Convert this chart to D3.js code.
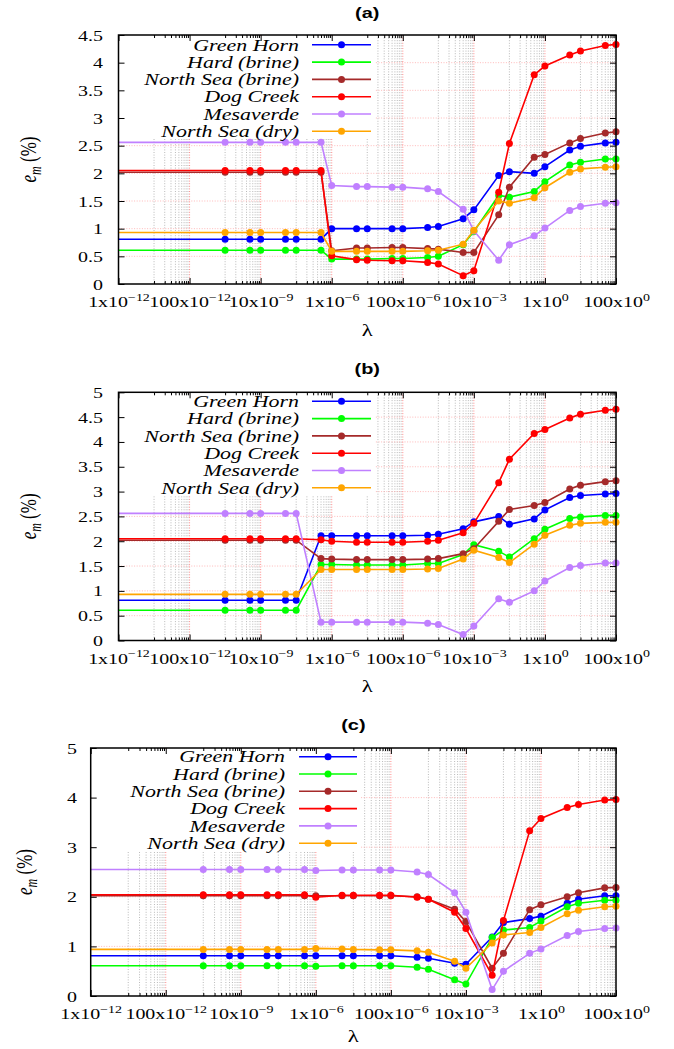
<!DOCTYPE html>
<html><head><meta charset="utf-8">
<script src="https://cdn.jsdelivr.net/npm/d3@7"></script>
<style>body{margin:0;background:#fff}</style>
</head><body>
<svg id="chart" width="674" height="1049"></svg>
<script>
// ---------- data ----------
const lambdas = [1e-9,5e-9,1e-8,5e-8,1e-7,5e-7,1e-6,5e-6,1e-5,5e-5,1e-4,5e-4,1e-3,5e-3,1e-2,5e-2,1e-1,0.5,1,5,10,50,100];
const seriesNames = ["Green Horn","Hard (brine)","North Sea (brine)","Dog Creek","Mesaverde","North Sea (dry)"];
const seriesColors = ["#0000ff","#00ff00","#a52a2a","#ff0000","#c080ff","#ffa500"];
const panelLabels = ["(a)","(b)","(c)"];
const xTickValues = [1e-12,1e-10,1e-8,1e-6,1e-4,1e-2,1,100];
const xTickMantissas = ["1","100","10","1","100","10","1","100"];
const xTickExponents = ["\u221212","\u221212","\u22129","\u22126","\u22126","\u22123","0","0"];
const yTicksA = [0,0.5,1,1.5,2,2.5,3,3.5,4,4.5];
const yTicksB = [0,0.5,1,1.5,2,2.5,3,3.5,4,4.5,5];
const yTicksC = [0,1,2,3,4,5];

// panel (a)
const a_greenHorn = [0.81,0.81,0.81,0.81,0.81,0.81,1.00,1.00,1.00,1.00,1.00,1.02,1.04,1.18,1.34,1.96,2.03,2.00,2.12,2.42,2.49,2.55,2.56];
const a_hardBrine = [0.61,0.61,0.61,0.61,0.61,0.61,0.45,0.45,0.45,0.46,0.46,0.48,0.50,0.71,0.95,1.60,1.57,1.67,1.85,2.15,2.20,2.26,2.26];
const a_northSeaBrine = [2.02,2.02,2.02,2.02,2.02,2.02,0.60,0.65,0.65,0.66,0.66,0.64,0.63,0.57,0.57,1.25,1.75,2.29,2.34,2.55,2.63,2.73,2.75];
const a_dogCreek = [2.05,2.05,2.05,2.05,2.05,2.05,0.51,0.44,0.43,0.42,0.42,0.39,0.36,0.15,0.24,1.66,2.54,3.78,3.94,4.14,4.21,4.31,4.33];
const a_mesaverde = [2.56,2.56,2.56,2.56,2.56,2.56,1.78,1.76,1.76,1.75,1.75,1.72,1.67,1.35,0.96,0.43,0.71,0.87,1.01,1.33,1.40,1.46,1.47];
const a_northSeaDry = [0.93,0.93,0.93,0.93,0.93,0.93,0.59,0.59,0.59,0.59,0.59,0.60,0.61,0.72,0.97,1.50,1.46,1.56,1.74,2.02,2.08,2.11,2.12];

// panel (b)
const b_greenHorn = [0.81,0.81,0.81,0.81,0.81,2.11,2.11,2.11,2.11,2.11,2.11,2.12,2.14,2.25,2.39,2.50,2.34,2.45,2.63,2.88,2.92,2.95,2.96];
const b_hardBrine = [0.61,0.61,0.61,0.61,0.61,1.53,1.53,1.52,1.52,1.52,1.52,1.55,1.55,1.73,1.93,1.80,1.68,2.05,2.24,2.46,2.49,2.52,2.52];
const b_northSeaBrine = [2.02,2.02,2.02,2.02,2.02,1.65,1.64,1.63,1.63,1.63,1.63,1.64,1.65,1.75,1.85,2.40,2.64,2.72,2.78,3.05,3.13,3.20,3.22];
const b_dogCreek = [2.05,2.05,2.05,2.05,2.05,2.03,2.00,1.98,1.98,1.98,1.98,2.00,2.02,2.17,2.36,3.18,3.65,4.17,4.25,4.48,4.56,4.64,4.66];
const b_mesaverde = [2.56,2.56,2.56,2.56,2.56,0.37,0.37,0.37,0.37,0.37,0.37,0.35,0.32,0.12,0.29,0.84,0.77,1.00,1.20,1.47,1.51,1.56,1.56];
const b_northSeaDry = [0.93,0.93,0.93,0.93,0.93,1.43,1.43,1.43,1.43,1.43,1.43,1.44,1.45,1.64,1.82,1.67,1.57,1.94,2.12,2.32,2.36,2.38,2.38];

// panel (c)
const c_greenHorn = [0.81,0.81,0.81,0.81,0.81,0.81,0.81,0.81,0.81,0.81,0.81,0.78,0.76,0.66,0.64,1.19,1.48,1.56,1.61,1.87,1.95,2.02,2.02];
const c_hardBrine = [0.61,0.61,0.61,0.61,0.61,0.61,0.60,0.61,0.61,0.61,0.61,0.58,0.54,0.33,0.24,1.18,1.33,1.38,1.51,1.80,1.87,1.93,1.93];
const c_northSeaBrine = [2.02,2.02,2.02,2.02,2.02,2.02,2.02,2.02,2.02,2.02,2.02,2.00,1.95,1.75,1.50,0.56,0.86,1.74,1.84,2.00,2.08,2.18,2.19];
const c_dogCreek = [2.04,2.04,2.04,2.04,2.04,2.04,1.99,2.03,2.03,2.03,2.03,1.99,1.95,1.69,1.36,0.42,1.52,3.33,3.58,3.80,3.86,3.95,3.96];
const c_mesaverde = [2.55,2.55,2.55,2.55,2.55,2.55,2.53,2.54,2.54,2.54,2.54,2.50,2.45,2.08,1.69,0.13,0.50,0.86,0.95,1.22,1.30,1.36,1.37];
const c_northSeaDry = [0.94,0.94,0.94,0.94,0.94,0.94,0.96,0.95,0.94,0.93,0.93,0.91,0.88,0.70,0.56,1.07,1.23,1.28,1.38,1.66,1.73,1.80,1.81];

// ---------- layout ----------
const SX = 1.33;              // horizontal text stretch of the original figure
const SERIF = "'Liberation Serif','Times New Roman',serif";
const SANS = "'Liberation Sans',Arial,sans-serif";
const panels = [
  {label: panelLabels[0], series:[a_greenHorn,a_hardBrine,a_northSeaBrine,a_dogCreek,a_mesaverde,a_northSeaDry],
   yTicks:yTicksA, yMax:4.5, L:118.5, R:616, T:35, B:284, titleY:12.5, xlabY:330, ylabX:28, yPad:15.5,
   legRight:299, legX1:312, legX2:371, legY0:44.8},
  {label: panelLabels[1], series:[b_greenHorn,b_hardBrine,b_northSeaBrine,b_dogCreek,b_mesaverde,b_northSeaDry],
   yTicks:yTicksB, yMax:5, L:118.5, R:616, T:392.3, B:640.5, titleY:368.3, xlabY:686, ylabX:28, yPad:15.5,
   legRight:299, legX1:312, legX2:371, legY0:401.3},
  {label: panelLabels[2], series:[c_greenHorn,c_hardBrine,c_northSeaBrine,c_dogCreek,c_mesaverde,c_northSeaDry],
   yTicks:yTicksC, yMax:5, L:90.7, R:616, T:748, B:996, titleY:725, xlabY:1036, ylabX:24, yPad:13.7,
   legRight:285, legX1:299, legX2:357, legY0:756.7}
];
const LEG_STEP = 17.3;

const svg = d3.select("#chart");
svg.append("rect").attr("width",674).attr("height",1049).attr("fill","#fff");

// minor grid positions (gnuplot log mxtics between decades-of-100 majors)
const minorX = [];
for (let j = -12; j < 2; j += 2) for (let m = 1; m <= 9; m++) minorX.push(m * Math.pow(10, j + 1));

panels.forEach((p, pi) => {
  const x = d3.scaleLog().domain([1e-12, 100]).range([p.L, p.R]);
  const y = d3.scaleLinear().domain([0, p.yMax]).range([p.B, p.T]);
  const g = svg.append("g");
  const clipId = "clip" + pi;
  g.append("clipPath").attr("id", clipId).append("rect")
    .attr("x", p.L).attr("y", p.T).attr("width", p.R - p.L).attr("height", p.B - p.T);

  // grid
  const grid = g.append("g");
  grid.selectAll("line.minor").data(minorX.filter(v => v > 1e-12 && v < 100)).join("line")
    .attr("x1", d => x(d)).attr("x2", d => x(d)).attr("y1", p.T).attr("y2", p.B)
    .attr("stroke", "#8c8c8c").attr("stroke-width", 0.6).attr("stroke-dasharray", "1,1.6");
  grid.selectAll("line.major").data(xTickValues.slice(1, -1)).join("line")
    .attr("x1", d => x(d)).attr("x2", d => x(d)).attr("y1", p.T).attr("y2", p.B)
    .attr("stroke", "#ff7070").attr("stroke-width", 0.8).attr("stroke-dasharray", "1,1.6");
  grid.selectAll("line.hy").data(p.yTicks.slice(1, -1)).join("line")
    .attr("x1", p.L).attr("x2", p.R).attr("y1", d => y(d)).attr("y2", d => y(d))
    .attr("stroke", "#ffa8a8").attr("stroke-width", 0.8).attr("stroke-dasharray", "1,1.6");

  // legend box (opaque)
  g.append("rect").attr("x", p.L + 1).attr("y", p.T + 1)
    .attr("width", p.legX2 + 4 - p.L - 1).attr("height", LEG_STEP * 6 - 1)
    .attr("fill", "#fff");

  // series
  const line = d3.line().x(d => x(d.l)).y(d => y(d.v));
  p.series.forEach((vals, si) => {
    const pts = vals.map((v, i) => ({l: lambdas[i], v}));
    const linePts = [{l: x.domain()[0], v: vals[0]}].concat(pts);
    g.append("path").datum(linePts).attr("d", line).attr("fill", "none")
      .attr("stroke", seriesColors[si]).attr("stroke-width", 1.6)
      .attr("clip-path", `url(#${clipId})`);
    g.append("g").selectAll("circle").data(pts).join("circle")
      .attr("cx", d => x(d.l)).attr("cy", d => y(d.v)).attr("r", 3.5)
      .attr("fill", seriesColors[si]);
  });

  // legend entries
  const leg = g.append("g");
  seriesNames.forEach((name, si) => {
    const ly = p.legY0 + si * LEG_STEP;
    leg.append("text").attr("transform", `translate(${p.legRight},${ly}) scale(${SX},1)`)
      .attr("text-anchor", "end").attr("dy", "0.35em")
      .attr("font-family", SERIF).attr("font-style", "italic").attr("font-size", 16.5)
      .attr("fill", "#000").text(name);
    leg.append("line").attr("x1", p.legX1).attr("x2", p.legX2).attr("y1", ly).attr("y2", ly)
      .attr("stroke", seriesColors[si]).attr("stroke-width", 1.6);
    leg.append("circle").attr("cx", (p.legX1 + p.legX2) / 2).attr("cy", ly).attr("r", 3.5)
      .attr("fill", seriesColors[si]);
  });

  // axes (inward ticks)
  const axB = g.append("g").attr("transform", `translate(0,${p.B})`)
    .call(d3.axisBottom(x).tickValues(xTickValues).tickSize(-6).tickFormat(""));
  const axT = g.append("g").attr("transform", `translate(0,${p.T})`)
    .call(d3.axisTop(x).tickValues(xTickValues).tickSize(-6).tickFormat(""));
  const mB = g.append("g").attr("transform", `translate(0,${p.B})`)
    .call(d3.axisBottom(x).tickValues(minorX).tickSize(-3).tickFormat(""));
  const mT = g.append("g").attr("transform", `translate(0,${p.T})`)
    .call(d3.axisTop(x).tickValues(minorX).tickSize(-3).tickFormat(""));
  const axL = g.append("g").attr("transform", `translate(${p.L},0)`)
    .call(d3.axisLeft(y).tickValues(p.yTicks).tickSize(-6).tickPadding(p.yPad).tickFormat(d3.format("")));
  const axR = g.append("g").attr("transform", `translate(${p.R},0)`)
    .call(d3.axisRight(y).tickValues(p.yTicks).tickSize(-6).tickFormat(""));
  [axB, axT, mB, mT, axL, axR].forEach(a => {
    a.select(".domain").remove();
    a.selectAll(".tick line").attr("stroke", "#000").attr("stroke-width", 1);
  });
  axL.selectAll(".tick text")
    .attr("x", 0).attr("dy", null)
    .attr("transform", `translate(${-p.yPad},5) scale(${SX},1)`)
    .attr("font-family", SERIF).attr("font-size", 15).attr("fill", "#000");

  axB.selectAll(".tick").each(function(d, i) {
    const t = d3.select(this).append("text")
      .attr("transform", `translate(0,23) scale(${SX},1)`)
      .attr("text-anchor", "middle").attr("font-family", SERIF).attr("font-size", 15).attr("fill", "#000");
    t.append("tspan").text(xTickMantissas[i] + "x10");
    t.append("tspan").attr("dy", -6.5).attr("font-size", 10.5).text(xTickExponents[i]);
  });

  // border
  g.append("rect").attr("x", p.L).attr("y", p.T).attr("width", p.R - p.L).attr("height", p.B - p.T)
    .attr("fill", "none").attr("stroke", "#000").attr("stroke-width", 1.5);

  // title
  g.append("text").attr("transform", `translate(${(p.L + p.R) / 2},${p.titleY}) scale(${SX},1)`)
    .attr("text-anchor", "middle").attr("dy", "0.35em")
    .attr("font-family", SANS).attr("font-weight", "bold").attr("font-size", 15).text(p.label);

  // x label
  g.append("text").attr("transform", `translate(${(p.L + p.R) / 2},${p.xlabY}) scale(${SX},1)`)
    .attr("text-anchor", "middle").attr("dy", "0.35em")
    .attr("font-family", SERIF).attr("font-size", 17).text("\u03bb");

  // y label
  const yl = g.append("text")
    .attr("transform", `translate(${p.ylabX},${(p.T + p.B) / 2}) scale(${SX},1) rotate(-90)`)
    .attr("text-anchor", "middle").attr("dy", "0.35em")
    .attr("font-family", SERIF).attr("font-size", 17);
  yl.append("tspan").attr("font-style", "italic").text("e");
  yl.append("tspan").attr("font-style", "italic").attr("font-size", 12).attr("dy", 4).text("m");
  yl.append("tspan").attr("dy", -4).text(" (%)");
});
</script>
</body></html>
